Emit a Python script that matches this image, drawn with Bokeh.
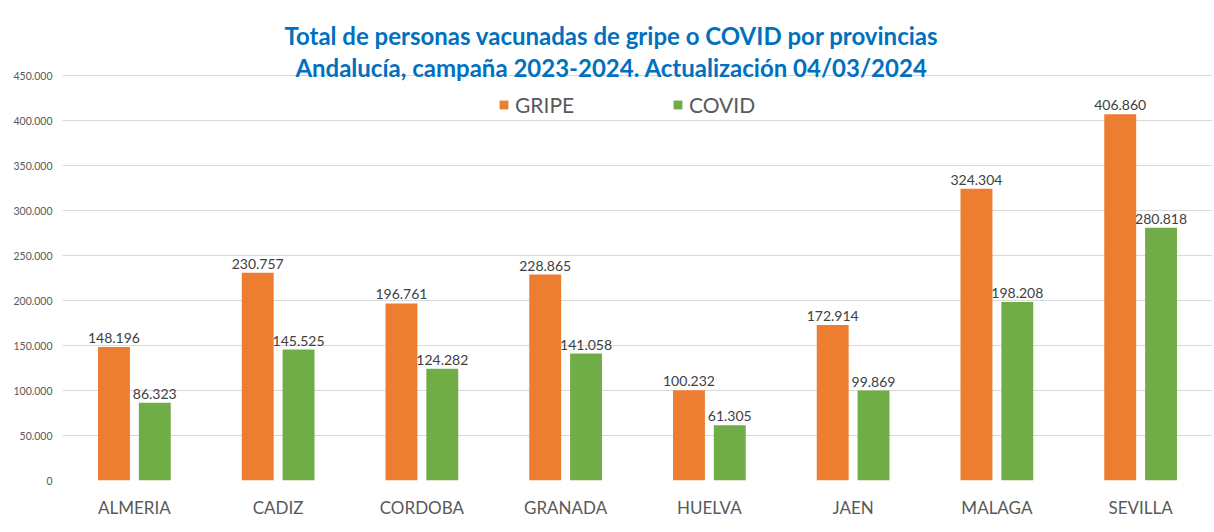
from bokeh.plotting import figure
from bokeh.models import (ColumnDataSource, FactorRange, Range1d, Label, Legend, LegendItem,
                          FixedTicker, CustomJSTickFormatter, LabelSet)
from bokeh.core.properties import value
from bokeh.transform import dodge
from bokeh.embed import file_html
from bokeh.resources import INLINE

provincias = ["ALMERIA", "CADIZ", "CORDOBA", "GRANADA", "HUELVA", "JAEN", "MALAGA", "SEVILLA"]
gripe = [148196, 230757, 196761, 228865, 100232, 172914, 324304, 406860]
covid = [86323, 145525, 124282, 141058, 61305, 99869, 198208, 280818]
y_ticks = [0, 50000, 100000, 150000, 200000, 250000, 300000, 350000, 400000, 450000]
title_1 = "Total de personas vacunadas de gripe o COVID por provincias"
title_2 = "Andalucía, campaña 2023-2024. Actualización 04/03/2024"

def fmt(v):
    return f"{v:,}".replace(",", ".")

src = ColumnDataSource(dict(
    prov=provincias, gripe=gripe, covid=covid,
    gripe_lbl=[fmt(v) for v in gripe], covid_lbl=[fmt(v) for v in covid],
))

FONT = "Lato"
GREY = "#595959"
W_FIG, H_FIG = 1214, 532
BOTTOM = 52
# the frame spans up to the canvas top; the 450.000 gridline sits 75px below it
frame_h = H_FIG - BOTTOM
y_end = y_ticks[-1] * frame_h / (frame_h - 75)

p = figure(width=W_FIG, height=H_FIG, x_range=FactorRange(factors=provincias, range_padding=0),
           y_range=Range1d(0, y_end), output_backend="svg", toolbar_location=None,
           min_border_left=62, min_border_right=2, min_border_bottom=BOTTOM, min_border_top=0,
           outline_line_color=None, background_fill_color="white", border_fill_color="white")

for txt, yc in ((title_1, 35), (title_2, 67)):
    p.add_layout(Label(x=611, y=yc, x_units="canvas", y_units="canvas", text=txt,
                       text_align="center", text_baseline="middle", text_font=FONT,
                       text_font_size="24px", text_font_style="bold", text_color="#0070C0"))

W = 0.222
r1 = p.vbar(x=dodge("prov", -0.142, range=p.x_range), top="gripe", width=W, source=src,
            fill_color="#ED7D31", line_color=None)
r2 = p.vbar(x=dodge("prov", 0.142, range=p.x_range), top="covid", width=W, source=src,
            fill_color="#70AD47", line_color=None)

for col, off in (("gripe", -0.142), ("covid", 0.142)):
    p.add_layout(LabelSet(x=dodge("prov", off, range=p.x_range), y=col, text=col + "_lbl",
                          source=src, text_align="center", text_baseline="bottom", y_offset=4,
                          text_font_size=value("14px"), text_color="#404040", text_font=value(FONT)))

legend = Legend(items=[LegendItem(label="GRIPE", renderers=[r1]),
                       LegendItem(label="COVID", renderers=[r2])],
                orientation="horizontal", location=(436, 363), padding=0, margin=0,
                glyph_width=11, glyph_height=11, label_standoff=6, label_width=157, spacing=0,
                label_text_font=FONT, label_text_font_size="21px", label_text_color=GREY,
                border_line_color=None, background_fill_alpha=0)
p.add_layout(legend)

p.yaxis.ticker = FixedTicker(ticks=y_ticks)
p.yaxis.formatter = CustomJSTickFormatter(code="return tick.toString().replace(/\\B(?=(\\d{3})+(?!\\d))/g, '.');")
p.yaxis.major_label_text_font = FONT
p.yaxis.major_label_text_font_size = "10.5px"
p.yaxis.major_label_text_color = GREY
p.yaxis.axis_line_color = None
p.yaxis.major_tick_line_color = None
p.yaxis.minor_tick_line_color = None
p.yaxis.major_label_standoff = 4

p.xaxis.major_label_text_font = FONT
p.xaxis.major_label_text_font_size = "17px"
p.xaxis.major_label_text_color = GREY
p.xaxis.axis_line_color = None
p.xaxis.major_tick_line_color = None
p.xaxis.major_label_standoff = 10

p.xgrid.grid_line_color = None
p.ygrid.grid_line_color = "#d9d9d9"
p.ygrid.grid_line_width = 1

open("out.html", "w").write(file_html(p, INLINE))
